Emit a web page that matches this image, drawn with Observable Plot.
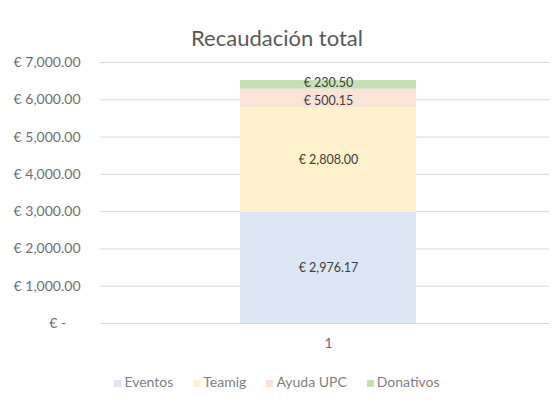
<!DOCTYPE html>
<html><head><meta charset="utf-8">
<script src="https://cdn.jsdelivr.net/npm/d3@7"></script>
<script src="https://cdn.jsdelivr.net/npm/@observablehq/plot@0.6"></script>
<style>
body{margin:0;background:#fff;font-family:Lato,"Open Sans",sans-serif;}
#wrap{position:relative;width:554px;height:407px;overflow:hidden;}
#title{position:absolute;top:24px;left:0;width:554px;text-align:center;font-size:22px;color:#595959;line-height:28px;}
#chart{position:absolute;top:52px;left:0;}
#legend{position:absolute;top:373px;left:0;width:554px;text-align:center;font-size:14px;color:#7f7f7f;}
#legend span.item{margin:0 10px;white-space:nowrap;}
#legend span.sw{display:inline-block;width:7px;height:7px;margin-right:3px;vertical-align:middle;}
</style></head>
<body><div id="wrap">
<div id="title">Recaudación total</div>
<div id="chart"></div>
<div id="legend"></div>
</div>
<script>
const categories = ["1"];
const series = ["Eventos", "Teamig", "Ayuda UPC", "Donativos"];
const values = [2976.17, 2808.00, 500.15, 230.50];
const colors = ["#dce6f4", "#fff2cc", "#fbe3d6", "#c6e0b4"];
const yTicks = [0, 1000, 2000, 3000, 4000, 5000, 6000, 7000];

const data = series.map((s, i) => ({cat: categories[0], series: s, value: values[i]}));
const fmt = d3.format(",.2f");
const eur = v => v === 0 ? "€ -\u00a0\u00a0\u00a0\u00a0" : "€ " + fmt(v);
const labelFor = keep => d => keep.includes(d.series) ? "€ " + fmt(d.value) : "";

const labelOpts = {fill: "#404040", fontSize: 12.5};

const plot = Plot.plot({
  width: 554,
  height: 300,
  marginLeft: 100,
  marginRight: 5,
  marginTop: 10,
  marginBottom: 29,
  style: {background: "#fff", fontFamily: "Lato, 'Open Sans', sans-serif"},
  x: {type: "band", domain: categories, padding: 0.4368, align: 0.513, label: null},
  y: {domain: [0, 7000], label: null},
  color: {domain: series, range: colors},
  marks: [
    Plot.gridY(yTicks, {stroke: "#d9d9d9", strokeOpacity: 1}),
    Plot.barY(data, {x: "cat", y: "value", fill: "series"}),
    Plot.text(data, Plot.stackY({x: "cat", y: "value", text: labelFor(["Eventos", "Teamig"]), ...labelOpts})),
    Plot.text(data, Plot.stackY({x: "cat", y: "value", text: labelFor(["Ayuda UPC"]), dy: 2, ...labelOpts})),
    Plot.text(data, Plot.stackY({x: "cat", y: "value", text: labelFor(["Donativos"]), dy: -2, ...labelOpts})),
    Plot.axisY({ticks: yTicks, tickFormat: eur, tickSize: 0, tickPadding: 20, fontSize: 14, color: "#6f6f6f"}),
    Plot.axisX({tickSize: 0, tickPadding: 15, fontSize: 14, color: "#6f6f6f"})
  ]
});
document.getElementById("chart").appendChild(plot);

const leg = document.getElementById("legend");
series.forEach((s, i) => {
  const item = document.createElement("span");
  item.className = "item";
  const sw = document.createElement("span");
  sw.className = "sw";
  sw.style.background = colors[i];
  item.appendChild(sw);
  item.appendChild(document.createTextNode(s));
  leg.appendChild(item);
});
</script>
</body></html>
